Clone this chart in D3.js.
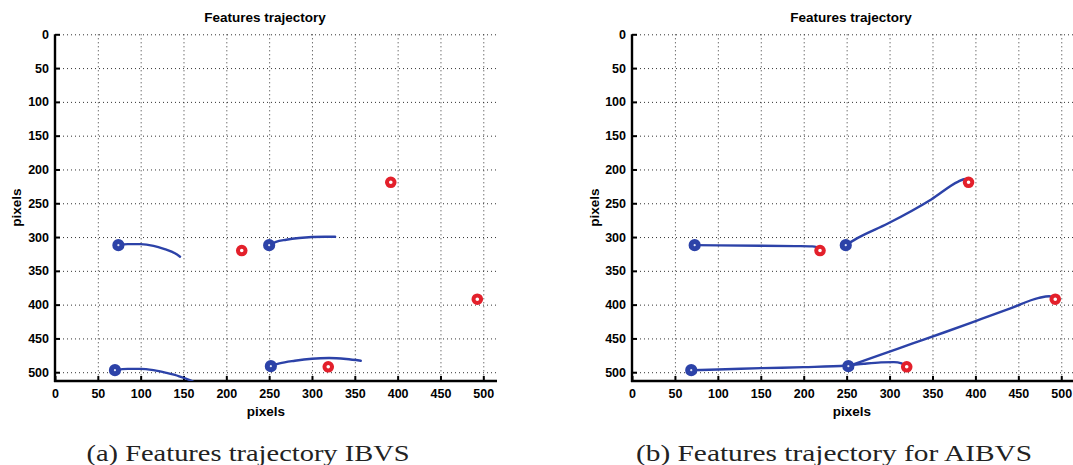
<!DOCTYPE html>
<html>
<head>
<meta charset="utf-8">
<script src="https://cdn.jsdelivr.net/npm/d3@7"></script>
<style>
  html, body { margin: 0; padding: 0; background: #fff; }
  svg { display: block; }
  .tick-label { font-family: "Liberation Sans", Arial, sans-serif; font-weight: bold; font-size: 12.5px; fill: #000; }
  .title { font-family: "Liberation Sans", Arial, sans-serif; font-weight: bold; font-size: 13.5px; fill: #000; }
  .caption { font-family: "Liberation Serif", "DejaVu Serif", serif; font-size: 24px; fill: #222; }
</style>
</head>
<body>
<svg id="chart" width="1073" height="465"></svg>
<script>
// ---------- DATA ----------
const xTicks = [0, 50, 100, 150, 200, 250, 300, 350, 400, 450, 500];
const yTicks = [0, 50, 100, 150, 200, 250, 300, 350, 400, 450, 500];
const titles = ["Features trajectory", "Features trajectory"];
const captions = ["(a) Features trajectory IBVS", "(b) Features trajectory for AIBVS"];
const axisLabel = "pixels";

// Panel (a): IBVS
const ibvsStarts  = [[74, 312], [250, 312], [70, 497], [252, 491]];
const ibvsTargets = [[218, 320], [392, 219], [319, 492], [493, 392]];
const ibvsTraj1 = [[74, 312], [85, 310.5], [100, 310.5], [115, 313], [128, 318], [140, 324], [146, 329]];
const ibvsTraj2 = [[250, 312], [258, 307], [270, 304], [285, 301.5], [300, 300], [315, 299.5], [327, 299.5]];
const ibvsTraj3 = [[70, 497], [85, 495], [100, 495], [115, 497], [130, 501], [145, 506], [158, 512], [166, 517]];
const ibvsTraj4 = [[252, 491], [262, 487], [280, 483], [300, 480], [320, 479], [340, 480.5], [357, 483]];

// Panel (b): AIBVS
const aibvsStarts  = [[73, 312], [249, 312], [69, 497], [252, 491]];
const aibvsTargets = [[219, 320], [392, 219], [320, 492], [493, 392]];
const aibvsTraj1 = [[73, 312], [100, 312.3], [150, 312.8], [190, 313.4], [210, 313.8], [215, 315], [219, 320]];
const aibvsTraj2 = [[249, 312], [262, 302], [298, 280], [349, 244], [380, 218], [388, 214], [392, 219]];
const aibvsTraj3 = [[69, 497], [100, 496], [150, 494], [200, 492.5], [250, 490], [270, 487.5], [290, 485.5], [305, 485], [314, 487], [320, 492]];
const aibvsTraj4 = [[252, 491], [290, 474], [327, 457.5], [365, 440.5], [401, 424], [440, 406], [474, 390], [486, 387.5], [493, 392]];

const xDomain = [0, 516];
const yDomain = [0, 513];

// ---------- DRAW ----------
const svg = d3.select("#chart");
const blue = "#2c42a8";
const red = "#e3202b";

const panels = [
  { left: 55, right: 497, top: 34.3, bottom: 381, titleX: 265, ylabX: 16, capX: 248, capW: 323,
    starts: ibvsStarts, targets: ibvsTargets, trajs: [ibvsTraj1, ibvsTraj2, ibvsTraj3, ibvsTraj4],
    title: titles[0], caption: captions[0] },
  { left: 632, right: 1075, top: 34.3, bottom: 381, titleX: 851, ylabX: 594, capX: 834, capW: 396,
    starts: aibvsStarts, targets: aibvsTargets, trajs: [aibvsTraj1, aibvsTraj2, aibvsTraj3, aibvsTraj4],
    title: titles[1], caption: captions[1] }
];

panels.forEach((p, i) => {
  const x = d3.scaleLinear().domain(xDomain).range([p.left, p.right]);
  const y = d3.scaleLinear().domain(yDomain).range([p.top, p.bottom]);
  const g = svg.append("g");

  const clipId = "clip" + i;
  svg.append("defs").append("clipPath").attr("id", clipId)
    .append("rect").attr("x", p.left).attr("y", p.top - 2)
    .attr("width", p.right - p.left).attr("height", p.bottom - p.top + 2);

  // grid
  const grid = g.append("g").attr("stroke", "#333").attr("stroke-width", 1).attr("stroke-dasharray", "1,3");
  grid.selectAll(".vg").data(xTicks.filter(d => d > 0)).enter().append("line")
    .attr("x1", d => x(d) + 0.5).attr("x2", d => x(d) + 0.5)
    .attr("y1", p.top).attr("y2", p.bottom);
  grid.selectAll(".hg").data(yTicks).enter().append("line")
    .attr("x1", p.left).attr("x2", p.right)
    .attr("y1", d => y(d) + 0.5).attr("y2", d => y(d) + 0.5);

  // axes
  const xAxis = d3.axisBottom(x).tickValues(xTicks).tickSize(-5).tickPadding(8).tickSizeOuter(0);
  const yAxis = d3.axisLeft(y).tickValues(yTicks).tickSize(-5).tickPadding(6).tickSizeOuter(0);
  const gx = g.append("g").attr("transform", `translate(0,${p.bottom})`).call(xAxis);
  const gy = g.append("g").attr("transform", `translate(${p.left},0)`).call(yAxis);
  [gx, gy].forEach(a => {
    a.select(".domain").attr("stroke", "#000").attr("stroke-width", 2.4);
    a.selectAll(".tick line").attr("stroke", "#000").attr("stroke-width", 2);
    a.selectAll(".tick text").attr("class", "tick-label").attr("font-family", null).attr("font-size", null);
  });
  gx.selectAll(".tick text").attr("dy", "0.71em");
  gx.select(".domain").attr("d", `M${p.left - 1},0H${p.right}`);
  gy.select(".domain").attr("d", `M0,${p.top}V${p.bottom + 1}`);

  // trajectories
  const line = d3.line().x(d => x(d[0])).y(d => y(d[1])).curve(d3.curveMonotoneX);
  g.append("g").attr("clip-path", `url(#${clipId})`)
    .selectAll("path").data(p.trajs).enter().append("path")
    .attr("d", line).attr("fill", "none").attr("stroke", blue).attr("stroke-width", 2.4)
    .attr("stroke-linecap", "round");

  // markers
  g.selectAll(".start").data(p.starts).enter().append("circle")
    .attr("cx", d => x(d[0])).attr("cy", d => y(d[1])).attr("r", 3.6)
    .attr("fill", "#dfe4f5").attr("stroke", blue).attr("stroke-width", 5);
  g.selectAll(".target").data(p.targets).enter().append("circle")
    .attr("cx", d => x(d[0])).attr("cy", d => y(d[1])).attr("r", 3.8)
    .attr("fill", "#fff").attr("stroke", red).attr("stroke-width", 4);

  // title
  g.append("text").attr("class", "title").attr("x", p.titleX).attr("y", 22)
    .attr("text-anchor", "middle").text(p.title);
  // x label
  g.append("text").attr("class", "title").attr("x", p.titleX + 1).attr("y", 416)
    .attr("text-anchor", "middle").text(axisLabel);
  // y label
  g.append("text").attr("class", "title")
    .attr("transform", `translate(${p.ylabX},${(p.top + p.bottom) / 2}) rotate(-90)`)
    .attr("text-anchor", "middle").attr("dy", "0.35em").text(axisLabel);
  // caption
  g.append("text").attr("class", "caption").attr("x", p.capX).attr("y", 461)
    .attr("text-anchor", "middle").attr("textLength", p.capW).attr("lengthAdjust", "spacingAndGlyphs")
    .text(p.caption);
});
</script>
</body>
</html>
